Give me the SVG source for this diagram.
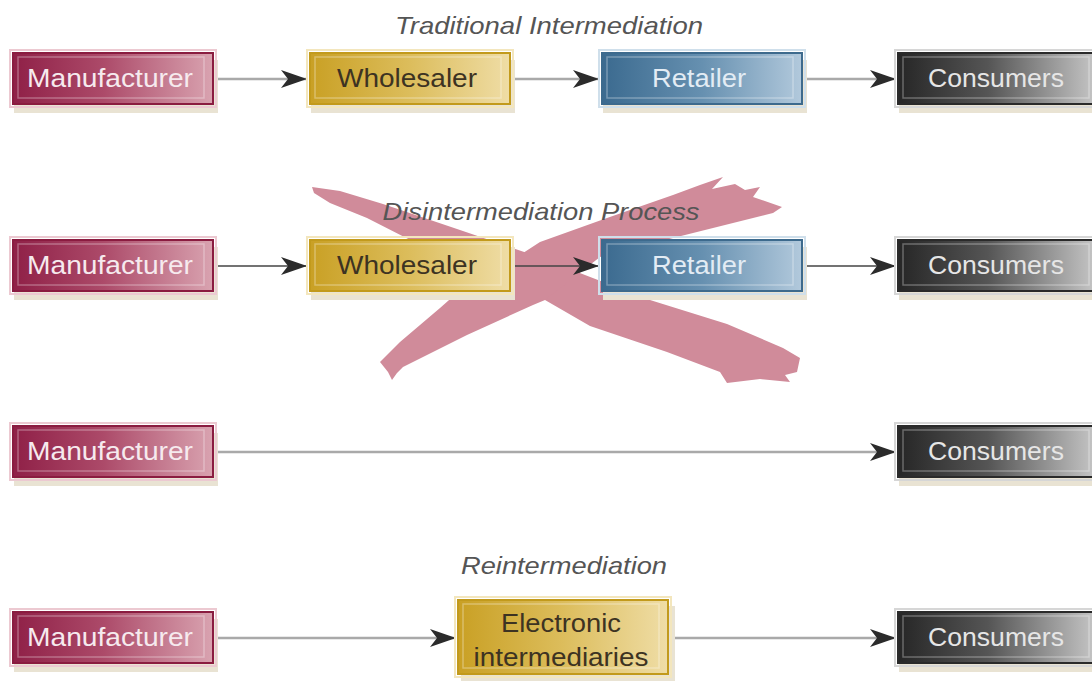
<svg xmlns="http://www.w3.org/2000/svg" width="1092" height="681" viewBox="0 0 1092 681">
<defs>
<linearGradient id="gM" x1="0" y1="0" x2="1" y2="0"><stop offset="0" stop-color="#8f2047"/><stop offset="0.45" stop-color="#ac4a69"/><stop offset="1" stop-color="#d9a3b0"/></linearGradient>
<linearGradient id="gW" x1="0" y1="0" x2="1" y2="0"><stop offset="0" stop-color="#c9a024"/><stop offset="0.5" stop-color="#dcbd5c"/><stop offset="1" stop-color="#efdda6"/></linearGradient>
<linearGradient id="gR" x1="0" y1="0" x2="1" y2="0"><stop offset="0" stop-color="#3b6a8f"/><stop offset="0.5" stop-color="#6690b0"/><stop offset="1" stop-color="#b2c9dc"/></linearGradient>
<linearGradient id="gC" x1="0" y1="0" x2="1" y2="0"><stop offset="0" stop-color="#262626"/><stop offset="0.45" stop-color="#555555"/><stop offset="1" stop-color="#c8c8c8"/></linearGradient>
<marker id="ah" markerUnits="userSpaceOnUse" markerWidth="30" markerHeight="20" refX="28" refY="10" orient="auto" viewBox="0 0 30 20">
<path d="M28,10 L2,1 L9,10 L2,19 Z" fill="#2b2b2b"/>
</marker>
</defs>
<style>
.sh{fill:#e9e3d3}
.halo{fill:none;stroke-width:2}
.bev{fill:none;stroke:#ffffff;stroke-opacity:0.3;stroke-width:1.5}
.lbl{font-family:"Liberation Sans",Arial,sans-serif;font-size:25px;text-anchor:middle}
.ttl{font-family:"Liberation Sans",Arial,sans-serif;font-size:24px;font-style:italic;fill:#555555;text-anchor:middle}
.m rect.b{fill:url(#gM);stroke:#8a1c40;stroke-width:2}
.m .halo{stroke:#ecc9d1}
.m text{fill:#f6eaee}
.w rect.b{fill:url(#gW);stroke:#c29a1c;stroke-width:2}
.w .halo{stroke:#f3e6bd}
.w text{fill:#3d3322}
.r rect.b{fill:url(#gR);stroke:#3d6a8d;stroke-width:2}
.r .halo{stroke:#cfdfeb}
.r text{fill:#e3ecf4}
.c rect.b{fill:url(#gC);stroke:#2a2a2a;stroke-width:2}
.c .halo{stroke:#d6d6d6}
.c text{fill:#e6e6e6}
.cg{stroke:#a9a9a9;stroke-width:2.5;fill:none}
.cd{stroke:#444444;stroke-width:1.5;fill:none}
.x{fill:#d08b9a}
</style>

<g id="cross">
<polygon class="x" points="312,187 340,191 383,204 460,230 533,255 650,300 727,324 783,348 800,358 797,372 785,375 790,382 760,379 727,383 720,372 667,352 590,326 545,300 420,245 367,218 330,203 314,193"/>
<polygon class="x" points="723,177 712,189 735,184 745,190 760,187 753,197 782,207 773,213 673,238 600,257 545,300 533,305 467,335 403,367 397,373 392,380 388,372 380,362 400,342 440,308 457,293 500,268 540,242 607,218 673,195 700,185"/>
</g>

<g id="connectors">
<line class="cg" x1="214" y1="79" x2="307" y2="79" marker-end="url(#ah)"/>
<line class="cg" x1="511" y1="79" x2="599" y2="79" marker-end="url(#ah)"/>
<line class="cg" x1="803" y1="79" x2="896" y2="79" marker-end="url(#ah)"/>
<line class="cd" x1="214" y1="266" x2="307" y2="266" marker-end="url(#ah)"/>
<line class="cd" x1="511" y1="266" x2="599" y2="266" marker-end="url(#ah)"/>
<line class="cd" x1="803" y1="266" x2="896" y2="266" marker-end="url(#ah)"/>
<line class="cg" x1="214" y1="452" x2="896" y2="452" marker-end="url(#ah)"/>
<line class="cg" x1="214" y1="638" x2="456" y2="638" marker-end="url(#ah)"/>
<line class="cg" x1="671" y1="638" x2="896" y2="638" marker-end="url(#ah)"/>
</g>

<g id="n1-manufacturer" class="m"><rect class="sh" x="14" y="60" width="204" height="53"/><rect class="halo" x="10" y="50" width="206" height="57"/><rect class="b" x="13" y="53" width="200" height="51"/><rect class="bev" x="18" y="57" width="186" height="41"/><text class="lbl" x="110" y="87" textLength="166" lengthAdjust="spacingAndGlyphs">Manufacturer</text></g>
<g id="n1-wholesaler" class="w"><rect class="sh" x="311" y="60" width="204" height="53"/><rect class="halo" x="307" y="50" width="206" height="57"/><rect class="b" x="310" y="53" width="200" height="51"/><rect class="bev" x="315" y="57" width="186" height="41"/><text class="lbl" x="407" y="87" textLength="140" lengthAdjust="spacingAndGlyphs">Wholesaler</text></g>
<g id="n1-retailer" class="r"><rect class="sh" x="603" y="60" width="204" height="53"/><rect class="halo" x="599" y="50" width="206" height="57"/><rect class="b" x="602" y="53" width="200" height="51"/><rect class="bev" x="607" y="57" width="186" height="41"/><text class="lbl" x="699" y="87" textLength="94" lengthAdjust="spacingAndGlyphs">Retailer</text></g>
<g id="n1-consumers" class="c"><rect class="sh" x="899" y="60" width="204" height="53"/><rect class="halo" x="895" y="50" width="206" height="57"/><rect class="b" x="898" y="53" width="200" height="51"/><rect class="bev" x="903" y="57" width="186" height="41"/><text class="lbl" x="996" y="87" textLength="136" lengthAdjust="spacingAndGlyphs">Consumers</text></g>

<g id="n2-manufacturer" class="m"><rect class="sh" x="14" y="247" width="204" height="53"/><rect class="halo" x="10" y="237" width="206" height="57"/><rect class="b" x="13" y="240" width="200" height="51"/><rect class="bev" x="18" y="244" width="186" height="41"/><text class="lbl" x="110" y="274" textLength="166" lengthAdjust="spacingAndGlyphs">Manufacturer</text></g>
<g id="n2-wholesaler" class="w"><rect class="sh" x="311" y="247" width="204" height="53"/><rect class="halo" x="307" y="237" width="206" height="57"/><rect class="b" x="310" y="240" width="200" height="51"/><rect class="bev" x="315" y="244" width="186" height="41"/><text class="lbl" x="407" y="274" textLength="140" lengthAdjust="spacingAndGlyphs">Wholesaler</text></g>
<g id="n2-retailer" class="r"><rect class="sh" x="603" y="247" width="204" height="53"/><rect class="halo" x="599" y="237" width="206" height="57"/><rect class="b" x="602" y="240" width="200" height="51"/><rect class="bev" x="607" y="244" width="186" height="41"/><text class="lbl" x="699" y="274" textLength="94" lengthAdjust="spacingAndGlyphs">Retailer</text></g>
<g id="n2-consumers" class="c"><rect class="sh" x="899" y="247" width="204" height="53"/><rect class="halo" x="895" y="237" width="206" height="57"/><rect class="b" x="898" y="240" width="200" height="51"/><rect class="bev" x="903" y="244" width="186" height="41"/><text class="lbl" x="996" y="274" textLength="136" lengthAdjust="spacingAndGlyphs">Consumers</text></g>

<g id="n3-manufacturer" class="m"><rect class="sh" x="14" y="433" width="204" height="53"/><rect class="halo" x="10" y="423" width="206" height="57"/><rect class="b" x="13" y="426" width="200" height="51"/><rect class="bev" x="18" y="430" width="186" height="41"/><text class="lbl" x="110" y="460" textLength="166" lengthAdjust="spacingAndGlyphs">Manufacturer</text></g>
<g id="n3-consumers" class="c"><rect class="sh" x="899" y="433" width="204" height="53"/><rect class="halo" x="895" y="423" width="206" height="57"/><rect class="b" x="898" y="426" width="200" height="51"/><rect class="bev" x="903" y="430" width="186" height="41"/><text class="lbl" x="996" y="460" textLength="136" lengthAdjust="spacingAndGlyphs">Consumers</text></g>

<g id="n4-manufacturer" class="m"><rect class="sh" x="14" y="619" width="204" height="53"/><rect class="halo" x="10" y="609" width="206" height="57"/><rect class="b" x="13" y="612" width="200" height="51"/><rect class="bev" x="18" y="616" width="186" height="41"/><text class="lbl" x="110" y="646" textLength="166" lengthAdjust="spacingAndGlyphs">Manufacturer</text></g>
<g id="n4-electronic" class="w"><rect class="sh" x="461" y="606" width="214" height="75"/><rect class="halo" x="455" y="597" width="216" height="80"/><rect class="b" x="458" y="600" width="210" height="74"/><rect class="bev" x="463" y="604" width="196" height="64"/><text class="lbl" x="561" y="632" textLength="120" lengthAdjust="spacingAndGlyphs">Electronic</text><text class="lbl" x="561" y="666" textLength="175" lengthAdjust="spacingAndGlyphs">intermediaries</text></g>
<g id="n4-consumers" class="c"><rect class="sh" x="899" y="619" width="204" height="53"/><rect class="halo" x="895" y="609" width="206" height="57"/><rect class="b" x="898" y="612" width="200" height="51"/><rect class="bev" x="903" y="616" width="186" height="41"/><text class="lbl" x="996" y="646" textLength="136" lengthAdjust="spacingAndGlyphs">Consumers</text></g>

<g id="titles">
<text class="ttl" x="549" y="34" textLength="308" lengthAdjust="spacingAndGlyphs">Traditional Intermediation</text>
<text class="ttl" x="541" y="220" textLength="317" lengthAdjust="spacingAndGlyphs">Disintermediation Process</text>
<text class="ttl" x="564" y="574" textLength="206" lengthAdjust="spacingAndGlyphs">Reintermediation</text>
</g>
</svg>
